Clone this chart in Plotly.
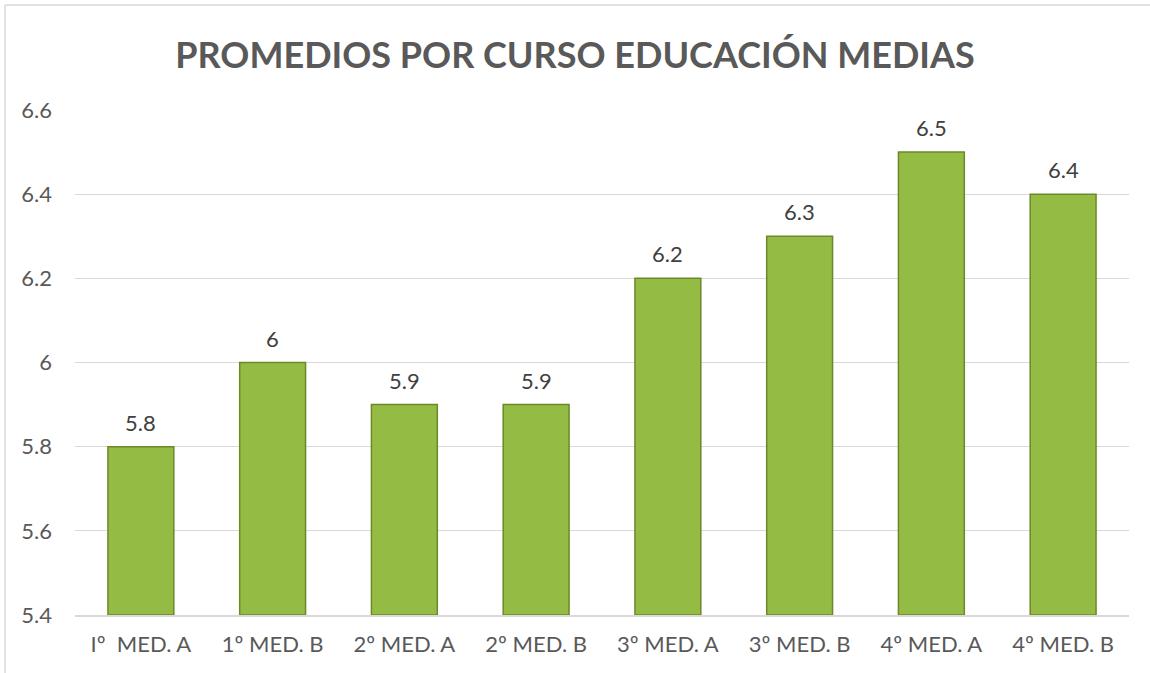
import plotly.graph_objects as go

categories = ["Iº  MED. A", "1º MED. B", "2º MED. A", "2º MED. B", "3º MED. A", "3º MED. B", "4º MED. A", "4º MED. B"]
values = [5.8, 6.0, 5.9, 5.9, 6.2, 6.3, 6.5, 6.4]
labels = ["5.8", "6", "5.9", "5.9", "6.2", "6.3", "6.5", "6.4"]
tick_vals = [5.4, 5.6, 5.8, 6.0, 6.2, 6.4, 6.6]
tick_text = ["5.4", "5.6", "5.8", "6", "6.2", "6.4", "6.6"]
y_min, y_max = 5.4, 6.6

FONT = "Lato, Carlito, 'Open Sans', sans-serif"

fig = go.Figure()
fig.add_trace(go.Bar(
    x=categories,
    y=[v - y_min for v in values],
    base=y_min,
    width=0.5,
    marker=dict(color="#94BB43", line=dict(color="#6A8A28", width=1.5)),
    hoverinfo="skip",
))

annotations = [
    dict(x=c, y=v, text=t, xref="x", yref="y", showarrow=False,
         yanchor="bottom", yshift=9,
         font=dict(size=22, color="#404040", family=FONT))
    for c, v, t in zip(categories, values, labels)
]

fig.update_layout(
    width=1150, height=673,
    margin=dict(l=75, r=21, t=110, b=58, autoexpand=False),
    paper_bgcolor="white", plot_bgcolor="white",
    showlegend=False,
    title=dict(text="<b>PROMEDIOS POR CURSO EDUCACIÓN MEDIAS</b>", x=0.5, xanchor="center",
               y=0.918, yanchor="middle",
               font=dict(size=36, color="#595959", family=FONT)),
    xaxis=dict(showgrid=False, showline=True, linecolor="#D9D9D9", linewidth=1.5,
               tickfont=dict(size=22, color="#595959", family=FONT), ticks="",
               ticklabelstandoff=9, automargin=False),
    yaxis=dict(range=[y_min, y_max], tickvals=tick_vals, ticktext=tick_text,
               showgrid=True, gridcolor="#D9D9D9", gridwidth=1.2, zeroline=False,
               tickfont=dict(size=22, color="#595959", family=FONT), ticks="",
               ticklabelstandoff=22, automargin=False),
    annotations=annotations,
    shapes=[
        dict(type="line", xref="paper", yref="paper",
             x0=-0.0664, x1=1.1, y0=1.208, y1=1.208,
             line=dict(color="#D9D9D9", width=1.5)),
        dict(type="line", xref="paper", yref="paper",
             x0=-0.0664, x1=-0.0664, y0=-0.2, y1=1.208,
             line=dict(color="#D9D9D9", width=1.5)),
    ],
)

fig.write_html("out.html", config={"displayModeBar": False},
               post_script="document.body.style.margin='0';")
